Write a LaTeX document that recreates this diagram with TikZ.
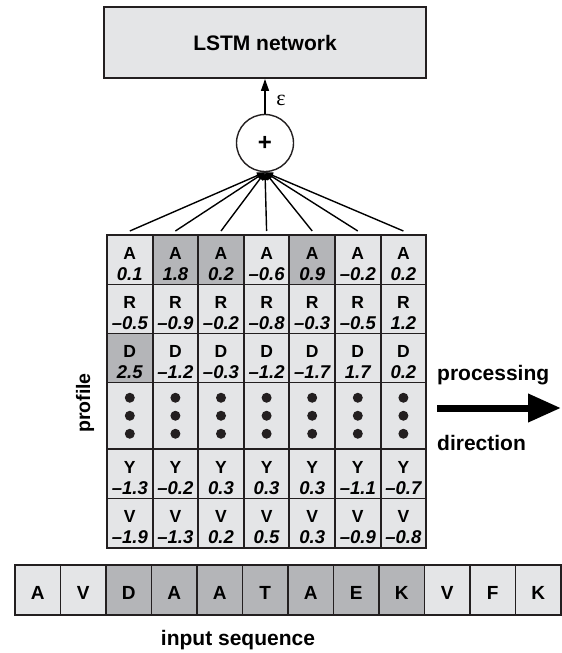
\documentclass[tikz,border=0pt]{standalone}
\usepackage{fontspec}
\setmainfont{Liberation Sans}
\newfontfamily\epsfont{Liberation Serif}
\usetikzlibrary{arrows.meta}
\definecolor{lightc}{HTML}{E4E5E7}
\definecolor{darkc}{HTML}{B4B5B8}
\definecolor{edgec}{HTML}{231F20}
\newcommand\gcell[7]{%
  \node[gbox, fill=#5, minimum height=#4pt] (#1) at (#2,#3) {};
  \node[glet] (#1l) at ([yshift=-18pt]#1.north) {#6};
  \node[gnum] (#1n) at ([yshift=-39pt]#1.north) {#7};}
\begin{document}
\begin{tikzpicture}[x=1pt,y=-1pt,
  gbox/.style={draw=edgec, line width=1.9pt, minimum width=45.6pt, inner sep=0pt, outer sep=0pt},
  glet/.style={font=\fontsize{17.5}{17.5}\selectfont\bfseries, inner sep=0pt},
  gnum/.style={font=\fontsize{18.5}{18.5}\selectfont\bfseries\itshape, inner sep=0pt},
  sbox/.style={draw=edgec, line width=1.9pt, minimum width=45.5pt, minimum height=50pt, inner sep=0pt, outer sep=0pt,
     text height=18.5pt, text depth=0pt, font=\fontsize{19}{19}\selectfont\bfseries},
  conn/.style={draw=black, line width=1.4pt, -{Triangle[length=8pt,width=6pt]}},
  big/.style={font=\fontsize{21}{21}\selectfont\bfseries, inner sep=0pt}]
\useasboundingbox (0,0) rectangle (562,653);

% LSTM box
\node[draw=edgec, line width=1.9pt, fill=lightc, minimum width=322pt, minimum height=71pt, inner sep=0pt,
      font=\fontsize{21}{21}\selectfont\bfseries] (lstm) at (265,42.5) {LSTM network};
% summation circle
\node[draw=edgec, line width=1.4pt, circle, minimum size=57pt, fill=white, inner sep=0pt,
      font=\fontsize{24}{24}\selectfont\bfseries] (sum) at (265,143) {+};
\draw[line width=1.4pt, -{Triangle[length=12pt,width=8pt]}] (sum.north) -- (lstm.south);
\node[font=\fontsize{22}{22}\selectfont\epsfont, inner sep=0pt] (eps) at (281,100) {ε};

% profile grid
\foreach \v/\f [count=\i] in {0.1/lightc, 1.8/darkc, 0.2/darkc, –0.6/lightc, 0.9/darkc, –0.2/lightc, 0.2/lightc}
  {\gcell{a\i}{84.2+45.6*\i}{259.75}{49.5}{\f}{A}{\v}}
\foreach \v [count=\i] in {–0.5, –0.9, –0.2, –0.8, –0.3, –0.5, 1.2}
  {\gcell{r\i}{84.2+45.6*\i}{309}{49}{lightc}{R}{\v}}
\foreach \v/\f [count=\i] in {2.5/darkc, –1.2/lightc, –0.3/lightc, –1.2/lightc, –1.7/lightc, 1.7/lightc, 0.2/lightc}
  {\gcell{d\i}{84.2+45.6*\i}{358}{49}{\f}{D}{\v}}
\foreach \i in {1,...,7}{
  \node[gbox, fill=lightc, minimum height=66.5pt] (m\i) at (84.2+45.6*\i,415.75) {};
  \fill[edgec] (m\i.center) circle (5pt);
  \fill[edgec] ([yshift=18pt]m\i.center) circle (5pt);
  \fill[edgec] ([yshift=-18pt]m\i.center) circle (5pt);
}
\foreach \v [count=\i] in {–1.3, –0.2, 0.3, 0.3, 0.3, –1.1, –0.7}
  {\gcell{y\i}{84.2+45.6*\i}{473.75}{49.5}{lightc}{Y}{\v}}
\foreach \v [count=\i] in {–1.9, –1.3, 0.2, 0.5, 0.3, –0.9, –0.8}
  {\gcell{v\i}{84.2+45.6*\i}{523.25}{49.5}{lightc}{V}{\v}}

% connectors to sum
\foreach \i in {1,...,7}
  \draw[conn] ([yshift=4pt]a\i.north) -- (sum.south);

% labels
\node[big, rotate=90, font=\fontsize{19.5}{19.5}\selectfont\bfseries] (prof) at (85,403) {profile};
\node[big, anchor=base west] (proc) at (437,380) {processing};
\node[big, anchor=base west] (dir) at (437,450) {direction};
\coordinate (pa) at (437,408);
\coordinate (pb) at (561,408);
\draw[line width=7pt, black, -{Triangle[length=33pt,width=27pt]}] (pa) -- (pb);

% input sequence
\foreach \c/\f [count=\i] in {A/lightc, V/lightc, D/darkc, A/darkc, A/darkc, T/darkc, A/darkc, E/darkc, K/darkc, V/lightc, F/lightc, K/lightc}
  \node[sbox, fill=\f] (s\i) at (-7.75+45.5*\i,590) {\c};
\node[big, anchor=base] (inseq) at (238,645) {input sequence};
\end{tikzpicture}
\end{document}
